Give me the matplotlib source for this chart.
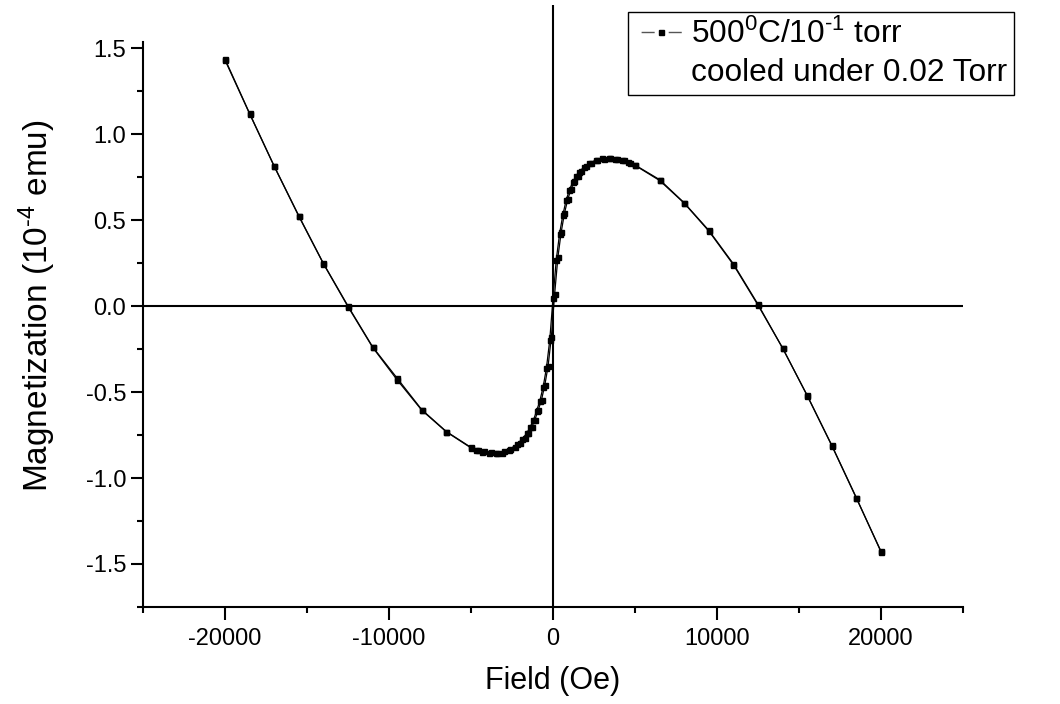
import matplotlib
matplotlib.use("Agg")
import matplotlib.pyplot as plt
from matplotlib.lines import Line2D
from matplotlib.ticker import MultipleLocator, FixedLocator, FormatStrFormatter

plt.rcParams['font.family'] = ['Liberation Sans', 'DejaVu Sans']
plt.rcParams['mathtext.fontset'] = 'custom'
plt.rcParams['mathtext.rm'] = 'Liberation Sans'
plt.rcParams['mathtext.it'] = 'Liberation Sans:italic'
plt.rcParams['axes.unicode_minus'] = False

# descending branch (from +20 kOe down to -20 kOe)
field_down = [20000, 18500, 17000, 15500, 14000, 12500, 11000, 9500, 8000, 6500,
              5000, 4600, 4200, 3800, 3400, 3000, 2600, 2200, 1900, 1600,
              1400, 1200, 1000, 800, 600, 400, 200, 0, -200, -400,
              -600, -800, -1000, -1200, -1400, -1600, -1900, -2200, -2600, -3000,
              -3400, -3800, -4200, -4600, -5000, -6500, -8000, -9500, -11000, -12500,
              -14000, -15500, -17000, -18500, -20000]
mag_down = [-1.43, -1.115, -0.81, -0.52, -0.245, 0.01, 0.245, 0.44, 0.60, 0.735,
            0.82, 0.837, 0.85, 0.857, 0.86, 0.858, 0.848, 0.83, 0.81, 0.78,
            0.755, 0.72, 0.675, 0.615, 0.53, 0.42, 0.27, 0.045, -0.20, -0.36,
            -0.47, -0.55, -0.61, -0.665, -0.705, -0.74, -0.775, -0.805, -0.83, -0.845,
            -0.852, -0.85, -0.845, -0.835, -0.822, -0.73, -0.603, -0.42, -0.237, 0.0,
            0.248, 0.525, 0.814, 1.12, 1.436]

# ascending branch (from -20 kOe back up to +20 kOe)
field_up = [-20000, -18500, -17000, -15500, -14000, -12500, -11000, -9500, -8000, -6500,
            -5000, -4700, -4300, -3900, -3500, -3100, -2700, -2300, -2000, -1700,
            -1500, -1300, -1100, -900, -700, -500, -300, -100, 100, 300,
            500, 700, 900, 1100, 1300, 1500, 1700, 2000, 2300, 2700,
            3100, 3500, 3900, 4300, 4700, 5000, 6500, 8000, 9500, 11000,
            12500, 14000, 15500, 17000, 18500, 20000]
mag_up = [1.43, 1.118, 0.812, 0.522, 0.246, -0.004, -0.24, -0.43, -0.606, -0.732,
          -0.825, -0.838, -0.848, -0.854, -0.857, -0.853, -0.84, -0.82, -0.795, -0.765,
          -0.74, -0.705, -0.66, -0.605, -0.545, -0.46, -0.35, -0.18, 0.07, 0.285,
          0.43, 0.54, 0.62, 0.68, 0.725, 0.758, 0.783, 0.812, 0.832, 0.849,
          0.857, 0.859, 0.856, 0.847, 0.834, 0.818, 0.73, 0.598, 0.436, 0.24,
          0.005, -0.244, -0.521, -0.812, -1.118, -1.426]

x_ticks = [-20000, -10000, 0, 10000, 20000]
y_ticks = [-1.5, -1.0, -0.5, 0.0, 0.5, 1.0, 1.5]
y_minor = [-1.75, -1.25, -0.75, -0.25, 0.25, 0.75, 1.25]

fig = plt.figure(figsize=(10.6, 7.04), dpi=100)
ax = fig.add_axes([0.1349, 0.1378, 0.7736, 0.855])

ax.plot(field_down, mag_down, '-', color='black', lw=0.9, marker='s', ms=3.6)
ax.plot(field_up, mag_up, '-', color='black', lw=0.9, marker='s', ms=3.6)

# zero lines
ax.axhline(0, color='black', lw=1.5, zorder=1)
ax.axvline(0, color='black', lw=1.5, zorder=1)

ax.set_xlim(-25000, 25000)
ax.set_ylim(-1.75, 1.75)
for s in ('top', 'right'):
    ax.spines[s].set_visible(False)
for s in ('left', 'bottom'):
    ax.spines[s].set_linewidth(1.5)
ax.spines['left'].set_bounds(-1.75, 1.535)

ax.set_xticks(x_ticks)
ax.set_yticks(y_ticks)
ax.xaxis.set_minor_locator(MultipleLocator(5000))
ax.yaxis.set_minor_locator(FixedLocator(y_minor))
ax.yaxis.set_major_formatter(FormatStrFormatter('%.1f'))
ax.tick_params(which='major', direction='out', length=9, width=1.5, labelsize=17)
ax.tick_params(which='minor', direction='out', length=4.5, width=1.5)
ax.tick_params(axis='y', pad=3)
ax.tick_params(axis='x', pad=6)

ax.set_xlabel('Field (Oe)', fontsize=22, labelpad=12)
ax.set_ylabel('Magnetization (10$^{\u2010 4}$ emu)', fontsize=24, labelpad=20)

# legend: Origin-style "— ▪ —" handle beside first line, second line has no handle
h1 = Line2D([], [], color='#555555', lw=1.0,
            ls=(33.1, (9.4, 10.1, 9.4, 8.6)),
            marker='s', ms=3.6, mfc='black', mec='black')
h2 = Line2D([], [], color='none', lw=0)
leg = ax.legend([h1, h2], ['500$^0$C/10$^{\u2010 1}$ torr', 'cooled under 0.02 Torr'],
                loc='upper right', bbox_to_anchor=(1014 / 1060, 692 / 704),
                bbox_transform=fig.transFigure, borderaxespad=0, fontsize=22.8,
                fancybox=False, framealpha=1, edgecolor='black',
                handlelength=1.64, handletextpad=0.13, borderpad=0.22,
                labelspacing=0.23)
leg.get_frame().set_linewidth(1.0)

fig.savefig('out.png', dpi=100)
